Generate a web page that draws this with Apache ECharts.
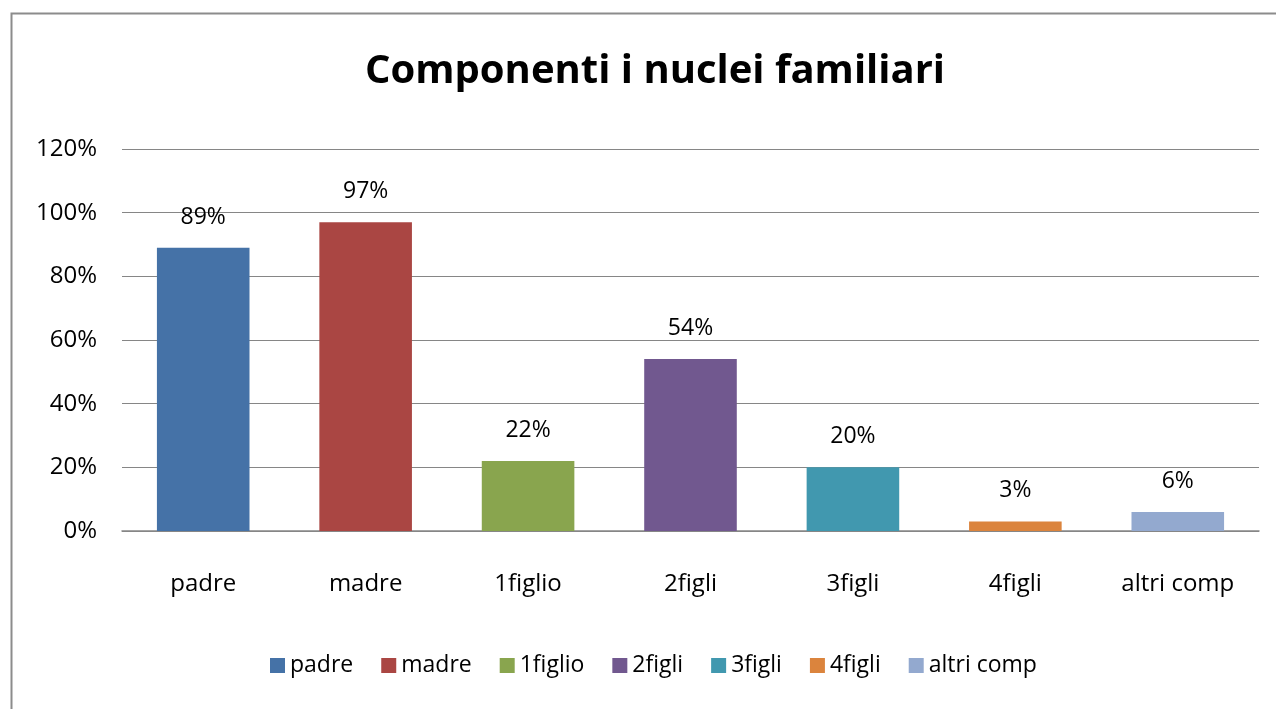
<!DOCTYPE html>
<html><head><meta charset="utf-8">
<script src="https://cdn.jsdelivr.net/npm/echarts@6/dist/echarts.min.js"></script>
<style>html,body{margin:0;padding:0;background:#fff}#c{width:1276px;height:709px}</style>
</head><body><div id="c"></div>
<script>
const categories = ['padre','madre','1figlio','2figli','3figli','4figli','altri comp'];
const values = [0.89, 0.97, 0.22, 0.54, 0.20, 0.03, 0.06];
const colors = ['#4572A7','#AA4643','#89A54E','#71588F','#4198AF','#DB843D','#93A9CF'];
const yTicks = [0, 0.2, 0.4, 0.6, 0.8, 1.0, 1.2];

const FONT = 'Open Sans';
const chart = echarts.init(document.getElementById('c'));
const series = categories.map((name, i) => ({
  name: name,
  type: 'bar',
  stack: 'all',
  barWidth: '57%',
  itemStyle: { color: colors[i] },
  label: {
    show: true, position: 'top', distance: 19,
    fontFamily: FONT, fontSize: 23, color: '#000',
    formatter: p => Math.round(p.value * 100) + '%'
  },
  data: categories.map((c, j) => j === i ? values[i] : null)
}));
chart.setOption({
  animation: false,
  backgroundColor: '#fff',
  textStyle: { fontFamily: FONT },
  graphic: [{
    type: 'rect', left: 9, top: 11, silent: true,
    shape: { width: 1400, height: 800 },
    style: { fill: 'none', stroke: '#8c8c8c', lineWidth: 2 }
  }],
  title: {
    text: 'Componenti i nuclei familiari', left: 360, top: 47,
    textStyle: { fontFamily: FONT, fontWeight: 'bold', fontSize: 40, color: '#000' }
  },
  legend: {
    bottom: 27, left: 265, itemWidth: 15, itemHeight: 15, itemGap: 28,
    icon: 'rect',
    textStyle: { fontFamily: FONT, fontSize: 23, color: '#000' },
    data: categories
  },
  grid: { left: 122, right: 17, top: 149, bottom: 178 },
  xAxis: {
    type: 'category', data: categories,
    axisLine: { lineStyle: { color: '#868686', width: 1.5 } },
    axisTick: { show: false },
    axisLabel: { margin: 41, fontFamily: FONT, fontSize: 24, color: '#000' }
  },
  yAxis: {
    type: 'value', min: 0, max: 1.2, interval: 0.2,
    axisLine: { show: false }, axisTick: { show: false },
    splitLine: { lineStyle: { color: '#868686', width: 1.2 } },
    axisLabel: { margin: 25, fontFamily: FONT, fontSize: 24, color: '#000',
      formatter: v => Math.round(v * 100) + '%' }
  },
  series: series
});
</script></body></html>
